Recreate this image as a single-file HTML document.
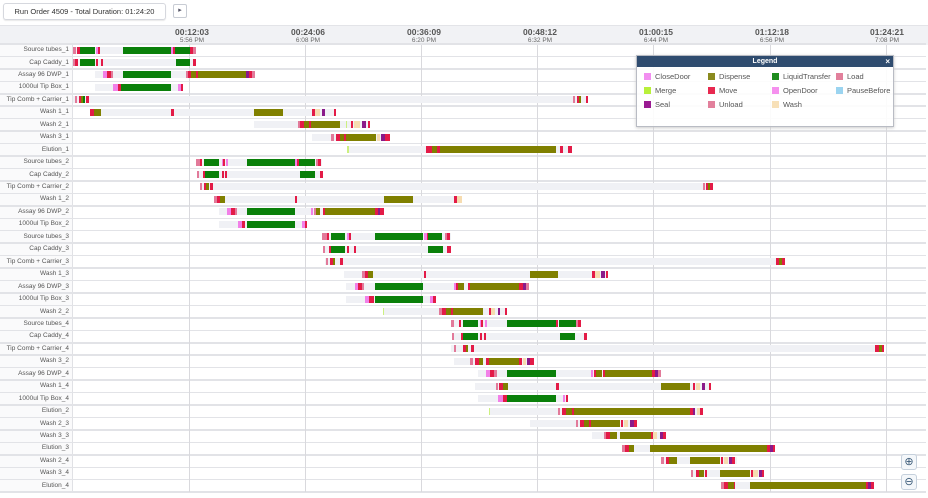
<!DOCTYPE html>
<html><head><meta charset="utf-8"><style>
*{margin:0;padding:0;box-sizing:border-box}
body{width:928px;height:498px;background:#fff;font-family:"Liberation Sans",sans-serif;position:relative;overflow:hidden}
.abs{position:absolute}
#hdr{left:0;top:25px;width:928px;height:20px;background:#f1f2f5;border-top:1px solid #e3e4e8}
.tt{position:absolute;top:27px;width:60px;text-align:center;font-size:8.5px;font-weight:bold;color:#555;line-height:10px}
.tp{position:absolute;top:37px;width:60px;text-align:center;font-size:6.5px;color:#666;line-height:8px}
.lab{position:absolute;left:0;width:69px;text-align:right;font-size:6.5px;color:#555;line-height:12px}
.sep{position:absolute;left:0;width:926px;height:1.5px;background:#e2e3e7}
.vg{position:absolute;top:45px;width:1px;height:447px;background:#d9d9dd}
.legi{position:absolute;font-size:7.5px;color:#555;line-height:9px}
.legi i{display:inline-block;width:7px;height:7px;margin-right:4px;vertical-align:-1px}
</style></head><body>
<div class="abs" style="left:3px;top:3px;width:163px;height:17px;border:1px solid #d6d8de;border-radius:3px;font-size:7.5px;color:#333;text-align:center;line-height:15px;box-shadow:0 1px 1px #e8e8e8">Run Order 4509 - Total Duration: 01:24:20</div>
<div class="abs" style="left:173px;top:4px;width:14px;height:14px;border:1px solid #c8ccd4;border-radius:2px;font-size:7px;color:#556;text-align:center;line-height:12px">&#9656;</div>
<div id="hdr" class="abs"></div>
<div class="tt" style="left:162px">00:12:03</div><div class="tp" style="left:162px">5:56 PM</div>
<div class="tt" style="left:278px">00:24:06</div><div class="tp" style="left:278px">6:08 PM</div>
<div class="tt" style="left:394px">00:36:09</div><div class="tp" style="left:394px">6:20 PM</div>
<div class="tt" style="left:510px">00:48:12</div><div class="tp" style="left:510px">6:32 PM</div>
<div class="tt" style="left:626px">01:00:15</div><div class="tp" style="left:626px">6:44 PM</div>
<div class="tt" style="left:742px">01:12:18</div><div class="tp" style="left:742px">6:56 PM</div>
<div class="tt" style="left:857px">01:24:21</div><div class="tp" style="left:857px">7:08 PM</div>
<div class="abs" style="left:0;top:45px;width:73px;height:447px;background:#fafafb;border-right:1px solid #e0e1e5"></div>
<div id="grid"></div>
<div class="lab" style="top:44px">Source tubes_1</div>
<div class="lab" style="top:56.5px">Cap Caddy_1</div>
<div class="lab" style="top:69px">Assay 96 DWP_1</div>
<div class="lab" style="top:81.4px">1000ul Tip Box_1</div>
<div class="lab" style="top:93.8px">Tip Comb + Carrier_1</div>
<div class="lab" style="top:106.3px">Wash 1_1</div>
<div class="lab" style="top:118.7px">Wash 2_1</div>
<div class="lab" style="top:131.2px">Wash 3_1</div>
<div class="lab" style="top:143.6px">Elution_1</div>
<div class="lab" style="top:156px">Source tubes_2</div>
<div class="lab" style="top:168.5px">Cap Caddy_2</div>
<div class="lab" style="top:181px">Tip Comb + Carrier_2</div>
<div class="lab" style="top:193.4px">Wash 1_2</div>
<div class="lab" style="top:205.9px">Assay 96 DWP_2</div>
<div class="lab" style="top:218.3px">1000ul Tip Box_2</div>
<div class="lab" style="top:230.8px">Source tubes_3</div>
<div class="lab" style="top:243.2px">Cap Caddy_3</div>
<div class="lab" style="top:255.7px">Tip Comb + Carrier_3</div>
<div class="lab" style="top:268.1px">Wash 1_3</div>
<div class="lab" style="top:280.6px">Assay 96 DWP_3</div>
<div class="lab" style="top:293px">1000ul Tip Box_3</div>
<div class="lab" style="top:305.5px">Wash 2_2</div>
<div class="lab" style="top:317.9px">Source tubes_4</div>
<div class="lab" style="top:330.4px">Cap Caddy_4</div>
<div class="lab" style="top:342.8px">Tip Comb + Carrier_4</div>
<div class="lab" style="top:355.3px">Wash 3_2</div>
<div class="lab" style="top:367.7px">Assay 96 DWP_4</div>
<div class="lab" style="top:380.2px">Wash 1_4</div>
<div class="lab" style="top:392.6px">1000ul Tip Box_4</div>
<div class="lab" style="top:405.1px">Elution_2</div>
<div class="lab" style="top:417.5px">Wash 2_3</div>
<div class="lab" style="top:430px">Wash 3_3</div>
<div class="lab" style="top:442.4px">Elution_3</div>
<div class="lab" style="top:454.9px">Wash 2_4</div>
<div class="lab" style="top:467.3px">Wash 3_4</div>
<div class="lab" style="top:479.8px">Elution_4</div>
<div id="bars"></div>
<div class="abs" style="left:636px;top:55px;width:258px;height:72px;background:rgba(255,255,255,0.88);border:1px solid #b9bcc4;box-shadow:0 1px 3px #ccc">
 <div style="height:11px;background:#2f4c6f;color:#fff;font-size:7px;font-weight:bold;text-align:center;line-height:11px;position:relative">Legend<span style="position:absolute;right:3px;top:0;font-size:8px">&#215;</span></div>
 <div class="legi" style="left:7px;top:16px"><i style="background:#f28ff0"></i>CloseDoor</div>
 <div class="legi" style="left:71px;top:16px"><i style="background:#8a8a1e"></i>Dispense</div>
 <div class="legi" style="left:135px;top:16px"><i style="background:#1e8c1e"></i>LiquidTransfer</div>
 <div class="legi" style="left:199px;top:16px"><i style="background:#e2809c"></i>Load</div>
 <div class="legi" style="left:7px;top:30px"><i style="background:#b8f03a"></i>Merge</div>
 <div class="legi" style="left:71px;top:30px"><i style="background:#e8284f"></i>Move</div>
 <div class="legi" style="left:135px;top:30px"><i style="background:#f590ee"></i>OpenDoor</div>
 <div class="legi" style="left:199px;top:30px"><i style="background:#9bd4f0"></i>PauseBefore</div>
 <div class="legi" style="left:7px;top:44px"><i style="background:#9a1a92"></i>Seal</div>
 <div class="legi" style="left:71px;top:44px"><i style="background:#e2809c"></i>Unload</div>
 <div class="legi" style="left:135px;top:44px"><i style="background:#f7e0b8"></i>Wash</div>
</div>
<div class="abs" style="left:901px;top:454px;width:16px;height:16px;border:1px solid #c5d0dc;border-radius:3px;background:#f4f7fa;color:#3a5a78;font-size:11px;text-align:center;line-height:14px">&#8853;</div>
<div class="abs" style="left:901px;top:474px;width:16px;height:16px;border:1px solid #c5d0dc;border-radius:3px;background:#f4f7fa;color:#3a5a78;font-size:11px;text-align:center;line-height:14px">&#8854;</div>
<script>
var C={G:'#0a800a',O:'#808000',R:'#e31b47',P:'#f280e8',L:'#e27a9a',S:'#8a1a8a',W:'#f6dcb0',M:'#ccf080',B:'#f0f1f5'};
var rows=[
[[73,196,'B'],[73,76,'L'],[77,80,'R'],[80,95,'G'],[96,98,'P'],[98,100,'R'],[123,171,'G'],[171,173,'P'],[173,175,'R'],[175,190,'G'],[190,193,'R'],[193,196,'L']],
[[73,196,'B'],[73,75,'L'],[75,78,'R'],[80,95,'G'],[96,98,'R'],[101,103,'R'],[176,190,'G'],[193,196,'R']],
[[95,255,'B'],[103,107,'P'],[107,111,'R'],[111,113,'L'],[123,171,'G'],[186,188,'L'],[188,191,'R'],[191,196,'O'],[196,198,'R'],[198,246,'O'],[246,249,'S'],[249,252,'R'],[252,255,'L']],
[[95,183,'B'],[113,118,'P'],[118,121,'R'],[121,171,'G'],[178,181,'P'],[181,183,'R']],
[[73,588,'B'],[75,77,'L'],[79,81,'R'],[81,83,'O'],[83,85,'G'],[86,89,'R'],[573,575,'L'],[577,579,'R'],[579,581,'O'],[586,588,'R']],
[[90,336,'B'],[90,94,'R'],[94,101,'O'],[171,174,'R'],[254,283,'O'],[312,315,'R'],[315,320,'W'],[322,325,'S'],[334,336,'R']],
[[254,370,'B'],[298,300,'L'],[300,304,'R'],[304,309,'O'],[309,311,'R'],[311,340,'O'],[346,347,'M'],[351,353,'R'],[354,360,'W'],[362,366,'S'],[368,370,'R']],
[[312,390,'B'],[331,334,'L'],[336,340,'R'],[340,344,'O'],[344,346,'R'],[346,376,'O'],[377,380,'W'],[381,385,'S'],[385,390,'R']],
[[347,572,'B'],[347,349,'M'],[426,432,'R'],[432,437,'O'],[437,440,'R'],[440,556,'O'],[560,563,'R'],[568,572,'R']],
[[196,322,'B'],[196,200,'L'],[200,202,'R'],[204,219,'G'],[222,223,'P'],[223,225,'R'],[226,228,'P'],[247,295,'G'],[295,297,'P'],[297,299,'R'],[299,315,'G'],[316,318,'L'],[318,321,'R']],
[[197,323,'B'],[197,199,'L'],[203,205,'R'],[205,219,'G'],[222,224,'R'],[225,227,'R'],[300,315,'G'],[320,323,'R']],
[[200,713,'B'],[200,202,'L'],[204,206,'R'],[206,209,'O'],[210,213,'R'],[703,705,'L'],[706,708,'R'],[708,710,'O'],[710,713,'R']],
[[214,462,'B'],[214,217,'L'],[217,220,'R'],[220,225,'O'],[295,297,'R'],[384,413,'O'],[454,457,'R'],[457,462,'W']],
[[219,384,'B'],[227,231,'P'],[231,235,'R'],[235,237,'L'],[247,295,'G'],[311,313,'P'],[314,316,'L'],[316,320,'O'],[323,325,'R'],[325,375,'O'],[375,378,'R'],[378,380,'S'],[380,384,'R']],
[[219,307,'B'],[238,242,'P'],[242,245,'R'],[247,295,'G'],[302,305,'P'],[305,307,'R']],
[[322,451,'B'],[322,327,'L'],[327,329,'R'],[331,345,'G'],[347,349,'P'],[349,351,'R'],[375,423,'G'],[424,427,'P'],[427,428,'R'],[428,442,'G'],[445,447,'L'],[447,450,'R']],
[[323,451,'B'],[323,325,'L'],[329,331,'R'],[331,345,'G'],[347,349,'R'],[354,356,'R'],[428,443,'G'],[447,451,'R']],
[[325,785,'B'],[326,328,'L'],[330,333,'R'],[333,335,'O'],[340,343,'R'],[776,779,'R'],[779,782,'O'],[782,785,'R']],
[[344,607,'B'],[362,365,'L'],[365,368,'R'],[368,373,'O'],[424,426,'R'],[530,558,'O'],[592,595,'R'],[595,600,'W'],[601,605,'S'],[606,608,'R']],
[[346,529,'B'],[355,358,'P'],[358,362,'R'],[362,364,'L'],[375,423,'G'],[454,456,'P'],[456,458,'R'],[458,464,'O'],[468,470,'R'],[470,519,'O'],[519,523,'R'],[523,526,'S'],[526,529,'L']],
[[346,436,'B'],[365,369,'P'],[369,374,'R'],[375,423,'G'],[430,433,'P'],[433,436,'R']],
[[383,507,'B'],[383,384,'M'],[439,442,'L'],[442,446,'R'],[446,451,'O'],[451,453,'R'],[453,483,'O'],[489,491,'R'],[491,495,'W'],[498,500,'S'],[505,507,'R']],
[[451,581,'B'],[451,454,'L'],[459,461,'R'],[463,478,'G'],[480,481,'P'],[481,483,'R'],[485,487,'P'],[507,556,'G'],[556,558,'R'],[559,576,'G'],[576,578,'L'],[578,581,'R']],
[[452,587,'B'],[452,454,'L'],[461,463,'R'],[463,478,'G'],[480,482,'R'],[484,486,'R'],[560,575,'G'],[584,587,'R']],
[[451,884,'B'],[454,456,'L'],[463,466,'R'],[466,468,'O'],[471,474,'R'],[875,879,'R'],[879,882,'O'],[882,884,'R']],
[[454,534,'B'],[470,473,'L'],[475,479,'R'],[479,483,'O'],[486,489,'R'],[489,519,'O'],[519,522,'R'],[523,526,'W'],[527,530,'S'],[530,534,'R']],
[[478,661,'B'],[486,490,'P'],[490,494,'R'],[494,497,'L'],[507,556,'G'],[591,593,'P'],[594,596,'R'],[596,602,'O'],[603,605,'R'],[605,652,'O'],[652,655,'R'],[655,658,'S'],[658,661,'L']],
[[475,711,'B'],[496,498,'L'],[499,503,'R'],[503,508,'O'],[556,559,'R'],[661,690,'O'],[693,695,'R'],[696,700,'W'],[702,705,'S'],[709,711,'R']],
[[478,568,'B'],[498,503,'P'],[503,507,'R'],[507,556,'G'],[563,565,'P'],[566,568,'R']],
[[489,703,'B'],[489,490,'M'],[558,560,'L'],[562,566,'R'],[566,572,'O'],[572,574,'R'],[574,690,'O'],[690,693,'R'],[693,695,'S'],[697,700,'W'],[700,703,'R']],
[[530,637,'B'],[576,578,'L'],[580,584,'R'],[584,589,'O'],[589,591,'R'],[591,620,'O'],[621,623,'R'],[624,628,'W'],[630,634,'S'],[634,637,'R']],
[[592,666,'B'],[604,606,'L'],[606,610,'R'],[610,617,'O'],[620,651,'O'],[651,653,'R'],[653,657,'W'],[660,663,'S'],[663,666,'R']],
[[622,775,'B'],[622,625,'L'],[625,629,'R'],[629,634,'O'],[650,767,'O'],[767,770,'R'],[770,773,'S'],[773,775,'R']],
[[661,737,'B'],[661,664,'L'],[666,669,'R'],[669,677,'O'],[690,720,'O'],[721,723,'R'],[724,728,'W'],[729,732,'S'],[732,735,'R']],
[[691,764,'B'],[691,693,'L'],[696,699,'R'],[699,704,'O'],[705,707,'R'],[720,750,'O'],[751,753,'R'],[753,758,'W'],[759,762,'S'],[762,764,'R']],
[[721,874,'B'],[721,724,'L'],[724,728,'R'],[728,734,'O'],[734,735,'R'],[750,866,'O'],[866,868,'R'],[868,871,'S'],[871,874,'R']]
];
var h='',g='';
for(var i=0;i<=36;i++){g+='<div class="sep" style="top:'+(43.2+12.45*i)+'px"></div>';}
[189,305,421,537,653,770,886].forEach(function(x){g+='<div class="vg" style="left:'+x+'px"></div>';});
document.getElementById('grid').innerHTML=g;
rows.forEach(function(r,i){var y=50+12.45*i-3.5;r.forEach(function(s){h+='<div class="abs" style="left:'+s[0]+'px;top:'+y+'px;width:'+(s[1]-s[0])+'px;height:7px;background:'+C[s[2]]+'"></div>';});});
document.getElementById('bars').innerHTML=h;
</script>
</body></html>
